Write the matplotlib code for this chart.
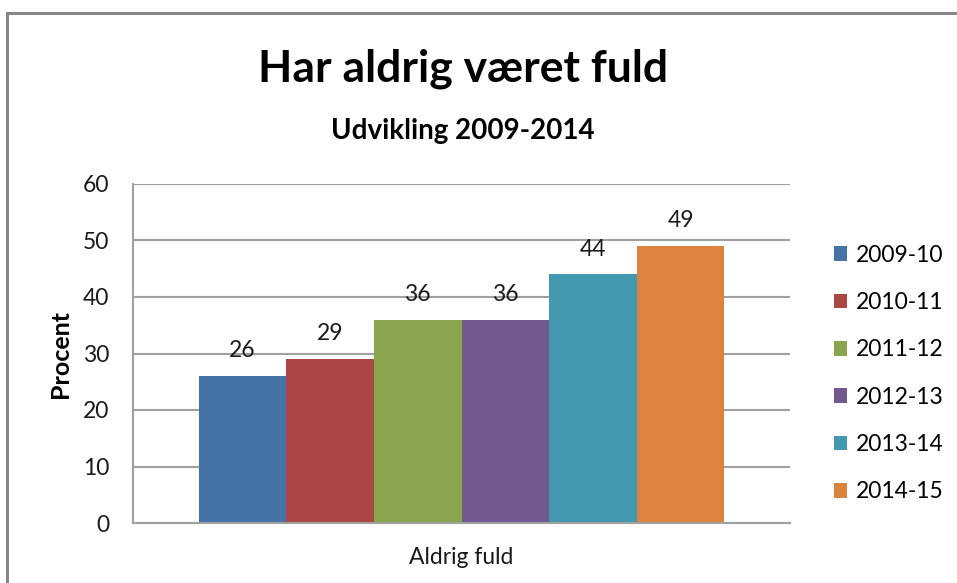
import matplotlib
matplotlib.use("Agg")
import matplotlib.pyplot as plt
from matplotlib.patches import Rectangle

categories = ["Aldrig fuld"]
series = ["2009-10", "2010-11", "2011-12", "2012-13", "2013-14", "2014-15"]
values = [26, 29, 36, 36, 44, 49]
colors = ["#4572A7", "#AA4643", "#89A54E", "#71588F", "#4198AF", "#DB843D"]

plt.rcParams['font.family'] = ['Lato', 'DejaVu Sans']

W, H = 957, 583
fig = plt.figure(figsize=(W/100, H/100), dpi=100)
ax = fig.add_axes([133/W, 1-523/H, (790-133)/W, (523-184)/H])

n = len(series)
group_w = 0.8
bw = group_w / n
for i, (s, v, c) in enumerate(zip(series, values, colors)):
    x = -group_w/2 + bw*(i+0.5)
    ax.bar(x, v, width=bw, color=c, label=s, zorder=2)
    ax.text(x, v + 2.6, str(v), ha='center', va='bottom', fontsize=16.5, color='#1a1a1a', zorder=3)

ax.set_xlim(-0.5, 0.5)
ax.set_ylim(0, 60)
ax.set_yticks(range(0, 61, 10))
ax.set_xticks([0])
ax.set_xticklabels(categories)
ax.tick_params(axis='both', length=0, labelsize=16.5, colors='#1a1a1a')
ax.tick_params(axis='y', pad=17)
ax.tick_params(axis='x', pad=17)
ax.yaxis.grid(True, color='#a0a0a0', linewidth=1.5, zorder=0)
ax.set_axisbelow(True)
for sp in ['top', 'right']:
    ax.spines[sp].set_visible(False)
for sp in ['left', 'bottom']:
    ax.spines[sp].set_color('#a0a0a0')
    ax.spines[sp].set_linewidth(1.5)

ax.set_ylabel("Procent", fontsize=18, fontweight='bold', labelpad=8)

fig.text(463/W, 1-69/H, "Har aldrig været fuld", ha='center', va='center',
         fontsize=32, fontweight='bold', color='black')
fig.text(463/W, 1-131/H, "Udvikling 2009-2014", ha='center', va='center',
         fontsize=20, fontweight='bold', color='black')

leg = ax.legend(loc='upper left', bbox_to_anchor=(813/W, 1-224/H), bbox_transform=fig.transFigure,
                frameon=False, fontsize=16.5, handlelength=0.6, handleheight=0.6,
                handletextpad=0.35, labelspacing=1.15)

fig.patches.append(Rectangle((7/W, -0.1), 1.2, 1 - 13/H + 0.1, transform=fig.transFigure,
                             fill=False, edgecolor='#878787', linewidth=2.2))

fig.savefig("out.png", dpi=100)
